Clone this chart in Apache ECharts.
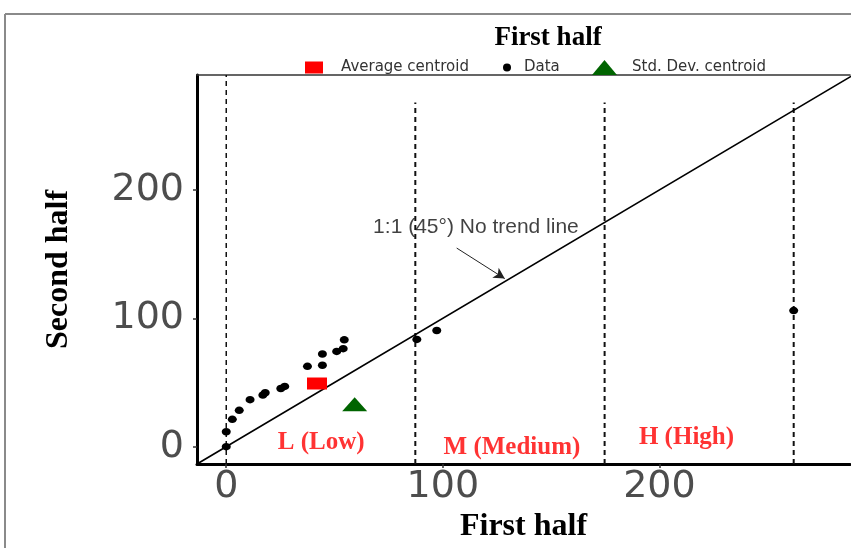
<!DOCTYPE html>
<html>
<head>
<meta charset="utf-8">
<script src="https://cdn.jsdelivr.net/npm/echarts@6/dist/echarts.min.js"></script>
<style>
html,body{margin:0;padding:0;background:#fff;}
#chart{width:851px;height:548px;}
</style>
</head>
<body>
<div id="chart"></div>
<script>
// ---- data ----
const dataX = [0, 0, 2.8, 6, 11, 16.9, 18, 25.2, 27, 37.5, 44.4, 44.4, 51, 54, 54.5, 88, 97.2, 262];
const dataY = [0, 11.6, 21.3, 28.3, 36.6, 40.2, 42, 45.3, 46.9, 62.6, 63.4, 72.2, 74.2, 76.3, 83.2, 83.5, 90.5, 106];
const avgCentroid = [41.9, 49.2];
const stdCentroid = [59.3, 33];
const thresholds = [0, 87.3, 174.7, 262];
const thresholdTops = [289.5, 268, 268, 268];
const oneToOne = [-13.5, 289.5];
const xTicks = [0, 100, 200];
const yTicks = [0, 100, 200];
const zoneNames = ['L (Low)', 'M (Medium)', 'H (High)'];
const zoneX = [43.8, 131.9, 212.5];
const zoneY = [3.3, -0.5, 7.2];
const noteText = '1:1 (45°) No trend line';
const notePos = [115.3, 171.3];
const arrowFrom = [106.4, 154.7];
const arrowTo = [128.6, 130.9];

const X_MIN = -13.5, X_MAX = 288, Y_MIN = -13.5, Y_MAX = 289.5;

const chart = echarts.init(document.getElementById('chart'));

const tickFont = {fontFamily: 'DejaVu Sans', fontSize: 38, color: '#4d4d4d'};
const nameFont = {fontFamily: 'Liberation Serif', fontWeight: 'bold', fontSize: 32, color: '#000'};

const series = [];
series.push({
  name: 'oneToOne', type: 'line', data: [[oneToOne[0], oneToOne[0]], [oneToOne[1], oneToOne[1]]],
  symbol: 'none', lineStyle: {color: '#000', width: 1.6}, silent: true, z: 3, clip: true
});
thresholds.forEach((t, i) => {
  series.push({
    name: 'thr' + i, type: 'line', data: [[t, Y_MIN], [t, thresholdTops[i]]],
    symbol: 'none', lineStyle: {color: '#111', width: i === 0 ? 1.5 : 2, type: [5, 4]}, silent: true, z: 2
  });
});
series.push({
  name: 'Data', type: 'scatter', data: dataX.map((x, i) => [x, dataY[i]]),
  symbol: 'circle', symbolSize: [9, 7.5], itemStyle: {color: '#000', opacity: 1}, z: 5
});
series.push({
  name: 'Average centroid', type: 'scatter', data: [avgCentroid],
  symbol: 'rect', symbolSize: [20, 12], itemStyle: {color: '#ff0000', opacity: 1}, z: 6
});
series.push({
  name: 'Std. Dev. centroid', type: 'scatter', data: [stdCentroid],
  symbol: 'triangle', symbolSize: [25, 14], itemStyle: {color: '#006400', opacity: 1}, z: 6
});
series.push({
  name: 'zones', type: 'scatter', data: zoneNames.map((n, i) => ({value: [zoneX[i], zoneY[i]], name: n})),
  symbolSize: 0, silent: true, z: 7,
  label: {show: true, position: 'inside', formatter: p => p.name,
    fontFamily: 'Liberation Serif', fontWeight: 'bold', fontSize: 25, color: '#ff0000'}
});
series.push({
  name: 'note', type: 'scatter', data: [{value: notePos, name: noteText}],
  symbolSize: 0, silent: true, z: 7,
  label: {show: true, position: 'inside', formatter: p => p.name,
    fontFamily: 'Liberation Sans', fontSize: 21, color: '#111'},
  markLine: {
    silent: true, symbol: ['none', 'arrow'], symbolSize: [9, 11],
    lineStyle: {color: '#222', width: 1, type: 'solid'},
    label: {show: false},
    data: [[{coord: arrowFrom}, {coord: arrowTo}]]
  }
});

const legendText = {fontFamily: 'DejaVu Sans', fontSize: 15, color: '#333'};

chart.setOption({
  animation: false,
  backgroundColor: '#fff',
  title: {
    text: 'First half', left: 543, top: 20, textAlign: 'center',
    textStyle: {fontFamily: 'Liberation Serif', fontWeight: 'bold', fontSize: 27, color: '#000'}
  },
  legend: [
    {data: ['Average centroid'], left: 300, top: 55, itemWidth: 18, itemHeight: 12, icon: 'rect',
      textStyle: Object.assign({padding: [0, 0, 0, 13]}, legendText), selectedMode: false},
    {data: ['Data'], left: 498, top: 55, itemWidth: 8, itemHeight: 8, icon: 'circle',
      textStyle: Object.assign({padding: [0, 0, 0, 8]}, legendText), selectedMode: false},
    {data: ['Std. Dev. centroid'], left: 587, top: 55, itemWidth: 25, itemHeight: 15, icon: 'triangle',
      textStyle: Object.assign({padding: [0, 0, 0, 10]}, legendText), selectedMode: false}
  ],
  grid: {left: 197, right: 1, top: 75, bottom: 81, containLabel: false},
  xAxis: [{
    type: 'value', min: X_MIN, max: X_MAX, position: 'bottom',
    axisLine: {show: true, onZero: false, lineStyle: {color: '#000', width: 3}},
    axisTick: {show: true, length: 4, customValues: xTicks, lineStyle: {color: '#333', width: 1.5}},
    axisLabel: Object.assign({customValues: xTicks, margin: 4}, tickFont),
    splitLine: {show: false},
    name: 'First half', nameLocation: 'middle', nameGap: 47, nameTextStyle: nameFont
  }, {
    type: 'value', min: X_MIN, max: X_MAX, position: 'top',
    axisLine: {show: true, onZero: false, lineStyle: {color: '#333', width: 1.5}},
    axisTick: {show: false}, axisLabel: {show: false}, splitLine: {show: false}
  }],
  yAxis: [{
    type: 'value', min: Y_MIN, max: Y_MAX,
    axisLine: {show: true, onZero: false, lineStyle: {color: '#000', width: 3}},
    axisTick: {show: true, length: 4, customValues: yTicks, lineStyle: {color: '#333', width: 1.5}},
    axisLabel: Object.assign({customValues: yTicks, margin: 13}, tickFont),
    splitLine: {show: false},
    name: 'Second half', nameLocation: 'middle', nameGap: 122, nameTextStyle: nameFont
  }],
  graphic: [
    {type: 'line', shape: {x1: 5, y1: 14, x2: 851, y2: 14}, style: {stroke: '#8a8a8a', lineWidth: 2}},
    {type: 'line', shape: {x1: 5, y1: 14, x2: 5, y2: 548}, style: {stroke: '#8a8a8a', lineWidth: 2}}
  ],
  series: series
});
</script>
</body>
</html>
